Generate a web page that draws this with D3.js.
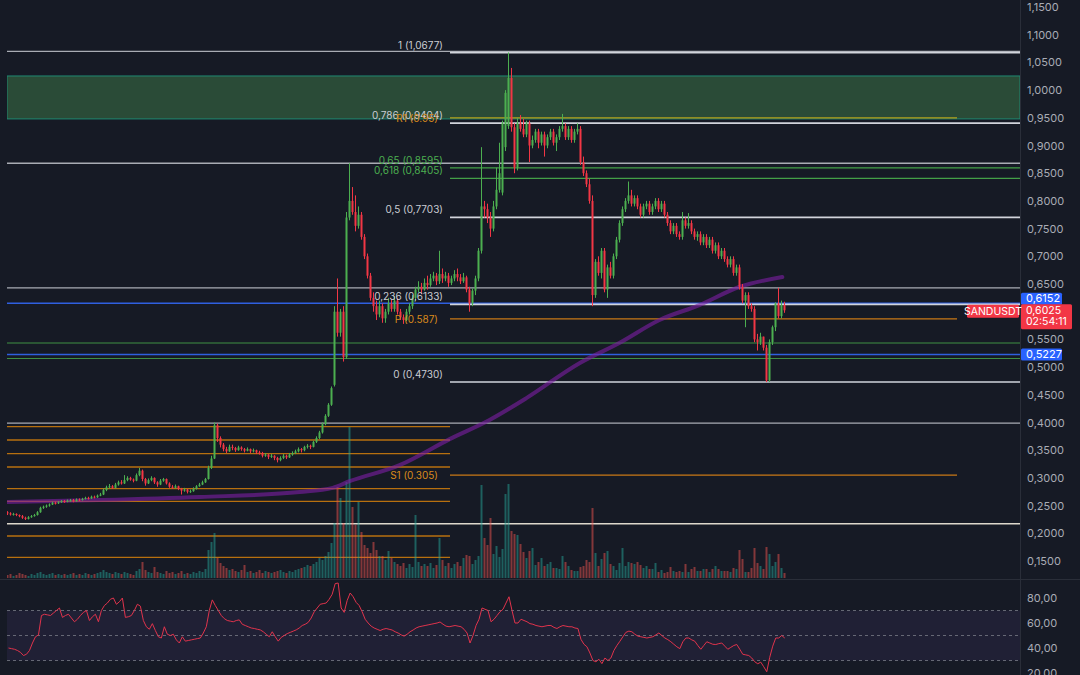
<!DOCTYPE html>
<html><head><meta charset="utf-8">
<script src="https://cdn.jsdelivr.net/npm/d3@7"></script>
<style>html,body{margin:0;padding:0;background:#161a25;overflow:hidden}text{font-family:Inter,"Noto Sans",sans-serif}</style>
</head><body><svg id="c" width="1080" height="675"></svg>
<script>
const opens=[.238,.236,.234,.235,.233,.231,.228,.226,.229,.231,.233,.238,.246,.248,.250,.252,.255,.254,.256,.258,.257,.259,.260,.258,.261,.260,.262,.264,.263,.266,.265,.268,.270,.278,.283,.285,.282,.288,.292,.290,.296,.300,.297,.295,.305,.313,.298,.290,.296,.300,.292,.288,.295,.298,.290,.284,.282,.285,.280,.277,.279,.275,.276,.280,.285,.288,.292,.298,.318,.335,.395,.372,.360,.352,.348,.356,.354,.350,.355,.352,.349,.352,.348,.350,.346,.345,.340,.342,.338,.340,.336,.332,.336,.340,.337,.342,.345,.348,.352,.350,.356,.358,.356,.365,.372,.382,.397,.412,.432,.468,.600,.562,.600,.518,.770,.800,.780,.755,.775,.735,.700,.665,.625,.610,.595,.610,.588,.600,.615,.605,.620,.600,.590,.585,.600,.610,.625,.640,.645,.640,.652,.648,.660,.665,.655,.668,.660,.665,.652,.660,.668,.662,.655,.662,.640,.615,.638,.660,.710,.790,.785,.770,.750,.790,.820,.815,.897,.935,1.022,.933,.860,.940,.930,.920,.940,.900,.910,.925,.905,.920,.900,.915,.925,.905,.915,.930,.935,.915,.930,.910,.925,.930,.870,.850,.830,.800,.630,.690,.670,.710,.640,.680,.665,.700,.730,.760,.785,.800,.810,.795,.805,.790,.775,.790,.795,.780,.790,.800,.785,.795,.775,.760,.745,.755,.740,.735,.765,.755,.760,.745,.735,.740,.725,.735,.720,.730,.710,.720,.700,.710,.695,.685,.695,.670,.680,.645,.620,.630,.610,.605,.550,.545,.555,.535,.476,.545,.572,.615,.592,.612];
const highs=[.240,.238,.237,.236,.234,.233,.230,.231,.233,.235,.240,.248,.250,.252,.254,.257,.257,.258,.260,.260,.261,.262,.262,.263,.263,.264,.266,.266,.268,.268,.270,.273,.281,.286,.289,.287,.291,.295,.296,.305,.303,.302,.299,.308,.318,.315,.300,.299,.303,.301,.294,.298,.300,.299,.292,.287,.288,.286,.282,.282,.280,.279,.283,.287,.291,.295,.300,.322,.340,.400,.398,.375,.363,.356,.360,.360,.356,.358,.357,.354,.355,.353,.353,.351,.349,.347,.345,.343,.343,.341,.338,.339,.343,.342,.345,.348,.351,.355,.354,.358,.361,.360,.367,.375,.385,.400,.415,.435,.465,.610,.660,.605,.610,.780,.868,.825,.810,.790,.780,.740,.705,.670,.635,.620,.620,.615,.605,.625,.622,.628,.625,.605,.595,.605,.615,.630,.645,.655,.652,.660,.665,.668,.672,.670,.710,.678,.672,.670,.665,.675,.678,.668,.670,.665,.645,.642,.665,.715,.897,.800,.795,.780,.800,.860,.905,.945,1.000,1.068,1.040,.940,.950,.955,.948,.945,.945,.918,.930,.930,.925,.925,.920,.930,.930,.920,.935,.957,.940,.935,.935,.930,.940,.935,.880,.855,.840,.810,.695,.700,.715,.715,.685,.690,.705,.735,.765,.790,.805,.835,.820,.810,.810,.795,.795,.800,.800,.795,.805,.805,.800,.800,.780,.765,.760,.760,.745,.780,.770,.778,.765,.750,.745,.745,.740,.740,.735,.735,.725,.725,.715,.715,.700,.700,.700,.685,.685,.650,.635,.635,.615,.610,.560,.562,.555,.540,.550,.575,.617,.643,.620,.618];
const lows=[.233,.232,.232,.231,.229,.226,.224,.225,.228,.230,.232,.237,.244,.246,.248,.251,.252,.253,.255,.255,.256,.257,.256,.257,.258,.259,.261,.261,.262,.263,.264,.267,.269,.276,.281,.280,.281,.286,.288,.289,.294,.295,.292,.294,.303,.294,.286,.289,.294,.289,.284,.287,.293,.288,.282,.280,.281,.278,.270,.275,.272,.273,.275,.279,.284,.287,.291,.297,.316,.334,.365,.355,.348,.345,.347,.350,.347,.349,.349,.346,.348,.345,.346,.343,.342,.337,.338,.334,.336,.332,.328,.330,.334,.334,.336,.340,.343,.346,.346,.348,.353,.352,.355,.363,.370,.380,.395,.410,.430,.465,.555,.555,.510,.515,.765,.775,.745,.750,.730,.695,.660,.620,.600,.585,.590,.580,.580,.595,.600,.600,.595,.585,.578,.583,.595,.605,.620,.635,.632,.638,.640,.645,.655,.648,.650,.652,.655,.645,.648,.655,.655,.650,.652,.635,.600,.610,.630,.655,.705,.770,.760,.735,.745,.785,.815,.810,.890,.930,.925,.850,.855,.925,.915,.915,.870,.895,.905,.895,.900,.880,.895,.910,.900,.890,.910,.925,.910,.910,.905,.905,.920,.865,.845,.825,.795,.610,.625,.665,.660,.635,.625,.660,.660,.695,.725,.755,.780,.795,.790,.790,.785,.770,.770,.785,.775,.775,.785,.780,.780,.770,.755,.740,.740,.735,.730,.730,.750,.750,.740,.730,.728,.720,.720,.715,.715,.705,.705,.695,.695,.690,.680,.680,.665,.665,.640,.615,.572,.605,.600,.545,.530,.540,.530,.473,.473,.540,.565,.588,.588,.598];
const closes=[.236,.234,.235,.233,.231,.228,.226,.229,.231,.233,.238,.246,.248,.250,.252,.255,.254,.256,.258,.257,.259,.260,.258,.261,.260,.262,.264,.263,.266,.265,.268,.270,.278,.283,.285,.282,.288,.292,.290,.296,.300,.297,.295,.305,.313,.298,.290,.296,.300,.292,.288,.295,.298,.290,.284,.282,.285,.280,.277,.279,.275,.276,.280,.285,.288,.292,.298,.318,.335,.395,.372,.360,.352,.348,.356,.354,.350,.355,.352,.349,.352,.348,.350,.346,.345,.340,.342,.338,.340,.336,.332,.336,.340,.337,.342,.345,.348,.352,.350,.356,.358,.356,.365,.372,.382,.397,.412,.432,.462,.600,.562,.600,.518,.770,.800,.780,.755,.775,.735,.700,.665,.625,.610,.595,.610,.588,.600,.615,.605,.620,.600,.590,.585,.600,.610,.625,.640,.645,.640,.652,.648,.660,.665,.655,.668,.660,.665,.652,.660,.668,.662,.655,.662,.640,.615,.638,.660,.710,.790,.785,.770,.750,.790,.820,.850,.940,.995,1.022,.933,.860,.940,.930,.920,.940,.900,.910,.925,.905,.920,.900,.915,.925,.905,.915,.930,.935,.915,.930,.910,.925,.930,.870,.850,.830,.800,.630,.690,.670,.710,.640,.680,.665,.700,.730,.760,.785,.800,.810,.795,.805,.790,.775,.790,.795,.780,.790,.800,.785,.795,.775,.760,.745,.755,.740,.735,.765,.755,.760,.745,.735,.740,.725,.735,.720,.730,.710,.720,.700,.710,.695,.685,.695,.670,.680,.645,.620,.630,.610,.605,.550,.545,.555,.535,.476,.545,.572,.615,.592,.612,.6025];
const volumes=[3,4,2,3,5,4,3,2,4,3,5,6,4,3,4,5,3,4,3,4,3,4,5,3,4,3,5,4,3,4,5,6,8,6,5,4,6,5,4,6,5,4,3,7,9,16,8,6,5,11,6,5,4,7,5,6,4,5,7,4,5,4,6,5,7,6,9,28,36,45,20,15,12,10,8,9,7,6,8,13,6,7,5,6,8,5,7,6,5,6,7,8,6,5,7,6,8,9,10,11,13,12,14,16,20,18,22,26,35,55,91,80,55,96,151,71,53,76,46,33,30,25,36,28,22,22,18,27,20,16,14,12,15,10,14,11,63,16,12,14,12,15,10,13,40,18,12,15,10,14,16,12,20,23,22,14,18,22,93,40,33,60,24,32,21,29,84,94,47,44,43,34,26,20,27,30,13,16,20,12,14,16,10,10,9,22,16,12,8,7,7,11,12,18,16,70,25,12,19,25,27,14,12,8,15,30,12,16,15,14,16,13,10,12,9,9,15,6,8,5,6,11,7,6,7,6,14,6,9,11,7,7,9,9,6,9,12,9,7,7,7,6,10,9,28,19,6,6,10,30,15,12,9,31,24,12,16,24,10,5];
const rsi=[40,39.5,39,38,36.5,34,35,38,44,49,50.5,66,67,66.5,66,68,70,72,64.5,66,67,64,61,63,66,68.5,70,62,65,67,61,70,74,76,79,80,75,77,80,64.5,65,66,70,75,73.5,62,57,55,59.5,54,49,48,57,51,50,51,46.5,44,49,45.5,46,46.5,47,47.5,48,52,57,70,78.5,74,70,66,63.5,62,61.5,61,62,62.5,59,58,57,56,55.6,55,54.5,53,51,49,53,49,45.5,48.5,50,51.5,52.5,53.5,54.5,56,58,59,60.5,64,69,72,75,75.5,76,79,83,91.5,92,72,68.5,78,84,81,76.5,74,69,63,60,57.5,56,55,54,55,55.6,55,54.4,53,52,50.5,49.5,51,53,54.4,56,57,57.5,58,58.5,59,59.5,60,60.8,59,57.5,57,57.5,58,57.5,57,55,52,44,50,58,63,72,71,70,61,63,66,69,71,76,81,70,60,60,63,62,61,59.5,59,58,57.5,57,57.5,58,58,56.5,55.6,57,58,57.5,57,57,56,55.6,47,43,41,36,30,29,31,27.5,32,30,32,38,42,45.4,49,52.5,53.5,53,51,49.5,49,48.5,48,48.5,49,50.5,52,50,48,46.7,45,43,41,39.5,45,48,48,46.5,45.4,42,39,42,45,44,43,42.8,43.5,44,41.5,39,40.5,42,42.8,39,35,34.5,34,32,29,27.4,28.7,25,21,32.6,41.5,48,48,50,48];
const maIdx=[-0.5,30.5,63.8,97.2,108.2,113.8,130.5,147.2,160.5,172.8,190.5,203.8,217.2,230.5,243.8,258.2];
const maVal=[0.2565,0.260,0.2655,0.2745,0.282,0.294,0.323,0.370,0.4045,0.444,0.507,0.5435,0.585,0.612,0.6446,0.6626];
const priceTicks=[1.15,1.10,1.05,1.00,0.95,0.90,0.85,0.80,0.75,0.70,0.65,0.55,0.50,0.45,0.40,0.35,0.30,0.25,0.20,0.15];
const rsiTicks=[80,60,40,20];
const rsiLevels=[70,50,30];
const zone=[0.948,1.0255];
const whiteLevels=[1.07,0.868,0.643,0.399];
const creamLevels=[0.2173];
const blueLevels=[0.6152,0.5227];
const greenLevels=[0.5435,0.5155];
const prevPivots=[0.3924,0.3684,0.3437,0.3197,0.2805,0.2578,0.1951,0.1567];
const fibRatios=["1","0,786","0,65","0,618","0,5","0,236","0"];
const fibPrices=[1.0677,0.9404,0.8595,0.8405,0.7703,0.6133,0.4730];
const pivotNames=["R1","P","S1"];
const pivotValues=[0.95,0.587,0.305];
const lastPrice=0.6025, lastLabel="SANDUSDT", countdown="02:54:11";

const svg=d3.select("#c");
const W=1080,H=675,PR=1020,PL=7,MAINB=579;
const x=d3.scaleLinear().domain([-0.5,337.5]).range([PL,PR]);
const y=d3.scaleLinear().domain([0.15,1.15]).range([561,7]);
const vy=d3.scaleLinear().domain([0,160]).range([578,418]);
const ry=d3.scaleLinear().domain([20,80]).range([673,598]);
const fmt=v=>v.toFixed(4).replace('.',',');
const UP="#4caf50",DN="#f23645";

svg.append("rect").attr("width",W).attr("height",H).attr("fill","#161a25");
const defs=svg.append("defs");
defs.append("clipPath").attr("id","mc").append("rect").attr("x",PL).attr("y",0).attr("width",PR-PL).attr("height",MAINB);
defs.append("clipPath").attr("id","rc").append("rect").attr("x",PL).attr("y",MAINB+1).attr("width",PR-PL).attr("height",H-MAINB);

const main=svg.append("g").attr("clip-path","url(#mc)");
main.append("rect").attr("x",PL).attr("width",PR-PL).attr("y",y(zone[1])).attr("height",y(zone[0])-y(zone[1]))
 .attr("fill","#2a4b37").attr("stroke","#1f8a72").attr("stroke-width",1);
main.append("g").selectAll("line").data(prevPivots).join("line").attr("x1",PL).attr("x2",450).attr("y1",d=>y(d)).attr("y2",d=>y(d))
 .attr("stroke","#b8700f").attr("stroke-width",1.3);
function hl(arr,color,w,x1,x2){main.append("g").selectAll("line").data(arr).join("line").attr("x1",x1).attr("x2",x2)
 .attr("y1",d=>y(d)).attr("y2",d=>y(d)).attr("stroke",color).attr("stroke-width",w);}
hl(whiteLevels,"#a9acb4",1.3,PL,PR);
hl(creamLevels,"#ddd8cc",1.5,PL,PR);
hl(greenLevels,"#3f8f44",1.2,PL,PR);
hl(blueLevels,"#2f5fe0",1.5,PL,PR);
const isGreen=r=>(r==="0,65"||r==="0,618");
main.append("g").selectAll("line").data(fibRatios).join("line").attr("x1",450).attr("x2",PR)
 .attr("y1",(r,i)=>y(fibPrices[i])).attr("y2",(r,i)=>y(fibPrices[i])).attr("stroke",r=>isGreen(r)?"#43a047":"#d1d4dc").attr("stroke-width",r=>isGreen(r)?1.2:1.6);
const pivColor=["#b5a21c","#c97816","#c97816"];
main.append("g").selectAll("line").data(pivotValues).join("line").attr("x1",450).attr("x2",957)
 .attr("y1",d=>y(d)).attr("y2",d=>y(d)).attr("stroke",(d,i)=>pivColor[i]).attr("stroke-width",1.3);
main.append("g").selectAll("rect").data(volumes).join("rect")
 .attr("x",(d,i)=>Math.round(x(i))-1.5).attr("width",2).attr("y",d=>vy(d)).attr("height",d=>vy(0)-vy(d))
 .attr("fill",(d,i)=>closes[i]>=opens[i]?"#26a69a":"#ef5350").attr("opacity",0.5);
main.append("path").datum(maIdx.map((d,i)=>[d,maVal[i]]))
 .attr("d",d3.line().x(d=>x(d[0])).y(d=>y(d[1])).curve(d3.curveMonotoneX))
 .attr("fill","none").attr("stroke","#7b1fa2").attr("stroke-width",4).attr("opacity",0.62).attr("stroke-linecap","round");
const cg=main.append("g");
closes.forEach((c,i)=>{
  const o=opens[i],col=c>=o?UP:DN,cx=Math.round(x(i));
  cg.append("rect").attr("x",cx-1).attr("width",1).attr("y",y(highs[i])).attr("height",Math.max(1,y(lows[i])-y(highs[i]))).attr("fill",col);
  const top=y(Math.max(o,c)),bot=y(Math.min(o,c));
  cg.append("rect").attr("x",cx-1.5).attr("width",2).attr("y",top).attr("height",Math.max(1,bot-top)).attr("fill",col);
});
const lg=svg.append("g").attr("font-size",10).attr("text-anchor","end");
fibRatios.forEach((r,i)=>{
  lg.append("text").attr("x",443).attr("y",y(fibPrices[i])-4).attr("fill",isGreen(r)?"#4caf50":"#c9ccd3")
   .text(r+" ("+fmt(fibPrices[i])+")");
});
pivotNames.forEach((n,i)=>{
  lg.append("text").attr("x",438).attr("y",y(pivotValues[i])+4).attr("fill","#d98a1c").text(n+" ("+pivotValues[i]+")");
});
svg.append("line").attr("x1",PR+0.5).attr("x2",PR+0.5).attr("y1",0).attr("y2",H).attr("stroke","#2a2e39");
svg.append("line").attr("x1",0).attr("x2",W).attr("y1",MAINB+0.5).attr("y2",MAINB+0.5).attr("stroke","#2a2e39");
const ax=svg.append("g").attr("transform",`translate(${PR},0)`).call(d3.axisRight(y).tickValues(priceTicks).tickFormat(fmt).tickSize(0).tickPadding(7));
ax.select(".domain").remove();
ax.selectAll("text").attr("fill","#a9acb5").attr("font-size",11).attr("font-family","Inter,Noto Sans,sans-serif");
const rg=svg.append("g").attr("clip-path","url(#rc)");
rg.append("rect").attr("x",PL).attr("width",PR-PL).attr("y",ry(70)).attr("height",ry(30)-ry(70)).attr("fill","#7e57c2").attr("opacity",0.1);
rg.append("g").selectAll("line").data(rsiLevels).join("line").attr("x1",PL).attr("x2",PR).attr("y1",d=>ry(d)).attr("y2",d=>ry(d))
 .attr("stroke","#787b86").attr("stroke-dasharray","3,3").attr("opacity",0.8);
rg.append("path").datum(rsi).attr("d",d3.line().x((d,i)=>x(i)).y(d=>ry(d))).attr("fill","none").attr("stroke","#e0334c").attr("stroke-width",1);
const rax=svg.append("g").attr("transform",`translate(${PR},0)`).call(d3.axisRight(ry).tickValues(rsiTicks).tickFormat(d=>d.toFixed(2).replace('.',',')).tickSize(0).tickPadding(7));
rax.select(".domain").remove();
rax.selectAll("text").attr("fill","#a9acb5").attr("font-size",11).attr("font-family","Inter,Noto Sans,sans-serif");
function badge(yc,h,w,bg,lines,fs){
  const g=svg.append("g");
  g.append("rect").attr("x",PR+1).attr("y",yc-h/2).attr("width",w).attr("height",h).attr("rx",1.5).attr("fill",bg);
  lines.forEach((t,k)=>g.append("text").attr("x",PR+6).attr("y",yc-h/2+9.5+k*11.5).attr("fill","#fff").attr("font-size",fs).text(t));
}
badge(y(blueLevels[0])-4.5,12,41,"#2962ff",[fmt(blueLevels[0])],11);
badge(y(lastPrice)+6.5,25,51,"#f23645",[fmt(lastPrice),countdown],10.5);
badge(y(blueLevels[1]),12,41,"#2962ff",[fmt(blueLevels[1])],11);
const sl=svg.append("g");
sl.append("rect").attr("x",967).attr("y",y(lastPrice)-5.5).attr("width",52).attr("height",13).attr("rx",1.5).attr("fill","#f23645");
sl.append("text").attr("x",993).attr("y",y(lastPrice)+4.5).attr("text-anchor","middle").attr("fill","#fff").attr("font-size",10.5).text(lastLabel);
</script></body></html>
